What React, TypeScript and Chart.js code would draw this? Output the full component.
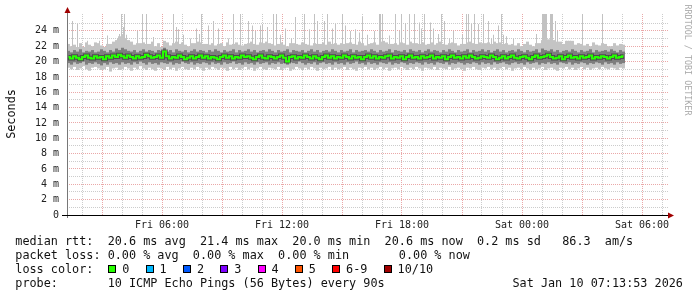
import React, { useEffect, useRef } from 'react';
import { Chart, registerables } from 'chart.js';

Chart.register(...registerables);

// ---- time axis: hours counted from Fri 00:00 ----
const START_HOUR = 1.25; // Fri 01:15 (left edge of plot)
const END_HOUR = 31.3; // Sat 07:18 (right edge of plot)
const STEP_HOURS = 0.15; // one smoke column = 9 minutes

// ---- smoke columns (ms) ----
const LIGHT_TOP_MS = [
  22.3, 22.0, 22.2, 21.9, 22.4, 21.9, 22.5, 22.2, 22.0, 22.5,
  22.4, 22.1, 21.9, 22.3, 22.3, 22.6, 22.8, 23.3, 23.5, 23.0,
  22.8, 22.6, 22.2, 22.4, 22.4, 22.5, 22.3, 22.3, 22.6, 22.0,
  22.4, 21.9, 22.7, 22.5, 22.1, 22.4, 22.6, 22.3, 22.5, 22.2,
  22.0, 22.4, 22.4, 22.6, 22.5, 22.3, 22.3, 22.2, 22.4, 22.1,
  22.3, 22.4, 22.0, 22.5, 22.2, 22.3, 22.5, 22.2, 22.1, 22.3,
  22.4, 22.6, 22.3, 22.2, 22.5, 22.4, 22.6, 22.4, 22.3, 22.1,
  22.3, 22.5, 22.2, 22.0, 22.4, 22.4, 22.3, 22.2, 22.5, 22.3,
  22.2, 22.1, 22.4, 22.3, 22.3, 22.5, 22.2, 22.6, 22.3, 22.4,
  22.2, 22.4, 22.3, 22.4, 22.5, 22.3, 22.2, 22.6, 22.4, 22.1,
  22.3, 22.4, 22.5, 22.2, 22.6, 22.7, 22.5, 22.3, 22.3, 22.4,
  22.2, 22.5, 22.4, 22.2, 22.6, 22.4, 22.4, 22.3, 22.5, 22.2,
  22.3, 22.5, 22.2, 22.4, 22.6, 22.3, 22.2, 22.4, 22.5, 22.4,
  22.1, 22.3, 22.3, 22.5, 22.6, 22.4, 22.3, 22.5, 22.4, 22.4,
  22.5, 22.3, 22.6, 22.4, 22.5, 22.3, 22.4, 22.2, 22.3, 22.1,
  22.4, 22.0, 22.3, 22.6, 22.2, 22.0, 22.4, 22.4, 22.8, 23.0,
  22.9, 23.2, 22.8, 22.6, 22.6, 22.3, 22.7, 22.7, 22.7, 22.2,
  22.4, 22.3, 22.1, 22.3, 22.0, 22.5, 22.2, 22.1, 22.4, 22.3,
  22.0, 22.0, 22.4, 22.1, 22.3, 22.2,
];

const MIN_MS = [
  19.2, 19.0, 19.3, 18.9, 19.1, 19.4, 19.0, 18.8, 19.2, 19.3,
  19.1, 18.9, 19.0, 19.3, 18.7, 19.1, 19.2, 18.9, 19.0, 19.3,
  19.1, 18.8, 19.2, 19.0, 19.4, 19.1, 18.9, 19.2, 19.0, 18.8,
  19.2, 19.1, 18.9, 19.3, 19.0, 19.2, 18.8, 19.1, 19.3, 19.0,
  18.9, 19.2, 19.0, 19.3, 19.1, 18.8, 19.2, 19.0, 19.3, 19.1,
  18.9, 19.2, 19.1, 18.8, 19.3, 19.0, 19.2, 18.9, 19.1, 19.3,
  19.0, 19.2, 18.8, 19.1, 19.3, 19.0, 18.9, 19.2, 19.1, 19.0,
  19.3, 18.9, 19.1, 19.2, 18.8, 19.0, 19.3, 19.1, 18.9, 19.2,
  19.0, 19.3, 19.1, 18.8, 19.2, 19.0, 19.1, 19.3, 18.9, 19.2,
  19.0, 19.1, 19.3, 18.9, 19.2, 19.0, 18.8, 19.2, 19.1, 19.3,
  19.0, 19.2, 18.9, 19.1, 19.3, 19.0, 19.2, 18.8, 19.1, 19.2,
  19.0, 19.3, 19.1, 18.9, 19.2, 19.0, 19.3, 19.1, 18.8, 19.2,
  19.1, 19.0, 19.3, 18.9, 19.2, 19.1, 19.0, 19.3, 18.9, 19.1,
  19.2, 19.0, 18.8, 19.2, 19.1, 19.3, 19.0, 18.9, 19.2, 19.1,
  19.3, 19.0, 19.2, 18.9, 19.1, 19.3, 19.0, 19.2, 18.8, 19.1,
  19.2, 19.0, 19.3, 19.1, 18.9, 19.2, 19.0, 19.1, 19.3, 18.9,
  19.1, 19.2, 19.0, 18.8, 19.2, 19.1, 19.3, 19.0, 19.2, 18.9,
  19.1, 19.3, 19.0, 19.2, 18.9, 19.1, 19.2, 19.0, 19.3, 19.1,
  19.0, 19.2, 19.1, 18.9, 19.2, 19.1,
];

const HI_MS = [
  21.4, 21.2, 21.5, 21.3, 21.6, 21.2, 21.4, 21.3, 21.5, 21.2,
  21.3, 21.6, 21.4, 21.2, 21.5, 21.3, 21.7, 21.5, 21.8, 21.6,
  21.4, 21.3, 21.5, 21.2, 21.4, 21.6, 21.3, 21.5, 21.4, 21.2,
  21.5, 21.4, 21.8, 21.3, 21.5, 21.2, 21.6, 21.4, 21.3, 21.5,
  21.2, 21.4, 21.6, 21.3, 21.5, 21.4, 21.2, 21.5, 21.3, 21.6,
  21.4, 21.2, 21.5, 21.3, 21.4, 21.6, 21.2, 21.5, 21.3, 21.4,
  21.6, 21.3, 21.5, 21.2, 21.4, 21.5, 21.3, 21.6, 21.4, 21.2,
  21.5, 21.3, 21.4, 21.6, 21.2, 21.5, 21.4, 21.3, 21.5, 21.2,
  21.4, 21.6, 21.3, 21.5, 21.2, 21.4, 21.5, 21.3, 21.6, 21.4,
  21.2, 21.5, 21.3, 21.4, 21.6, 21.2, 21.5, 21.3, 21.4, 21.5,
  21.3, 21.6, 21.4, 21.2, 21.5, 21.3, 21.4, 21.6, 21.2, 21.5,
  21.4, 21.3, 21.5, 21.2, 21.6, 21.4, 21.3, 21.5, 21.2, 21.4,
  21.6, 21.3, 21.5, 21.4, 21.2, 21.5, 21.3, 21.6, 21.4, 21.2,
  21.5, 21.3, 21.4, 21.6, 21.2, 21.5, 21.3, 21.4, 21.6, 21.3,
  21.5, 21.2, 21.4, 21.6, 21.3, 21.5, 21.2, 21.4, 21.5, 21.3,
  21.6, 21.4, 21.2, 21.5, 21.3, 21.4, 21.6, 21.2, 21.7, 21.5,
  21.4, 21.6, 21.3, 21.5, 21.2, 21.4, 21.5, 21.3, 21.6, 21.4,
  21.2, 21.5, 21.3, 21.4, 21.6, 21.2, 21.5, 21.3, 21.4, 21.5,
  21.3, 21.6, 21.4, 21.2, 21.5, 21.3,
];

const LO_MS = [
  19.8, 19.6, 19.9, 19.7, 19.8, 20.0, 19.6, 19.8, 19.7, 19.9,
  19.7, 19.5, 19.8, 19.6, 19.9, 19.7, 19.8, 19.6, 19.9, 19.7,
  19.8, 19.6, 19.9, 19.7, 20.0, 19.8, 19.6, 19.9, 19.7, 19.8,
  19.6, 19.9, 19.8, 19.7, 19.9, 19.6, 19.8, 19.7, 20.0, 19.8,
  19.7, 19.9, 19.6, 19.8, 19.7, 19.9, 19.8, 19.6, 19.9, 19.7,
  19.8, 19.6, 19.9, 19.7, 19.8, 20.0, 19.7, 19.8, 19.6, 19.9,
  19.7, 19.8, 19.6, 19.9, 19.7, 19.8, 19.9, 19.6, 19.8, 19.7,
  19.9, 19.7, 19.8, 19.6, 19.9, 19.8, 19.7, 20.0, 19.8, 19.6,
  19.8, 19.7, 19.9, 19.6, 19.8, 19.9, 19.7, 19.8, 19.6, 19.9,
  19.7, 19.8, 19.6, 19.9, 19.7, 19.8, 20.0, 19.7, 19.8, 19.6,
  19.9, 19.7, 19.8, 19.6, 19.9, 19.8, 19.7, 19.9, 19.6, 19.8,
  19.7, 19.9, 19.8, 19.6, 19.8, 19.7, 19.9, 19.8, 19.6, 19.9,
  19.7, 19.8, 19.6, 19.9, 19.8, 19.7, 19.9, 19.6, 19.8, 19.7,
  19.9, 19.8, 19.6, 19.8, 19.7, 19.9, 19.8, 19.6, 19.9, 19.7,
  19.8, 19.6, 19.9, 19.7, 19.8, 19.9, 19.7, 19.6, 19.8, 19.9,
  19.7, 19.8, 19.6, 19.9, 19.7, 19.8, 19.9, 19.6, 19.8, 19.7,
  19.9, 19.7, 19.8, 19.6, 19.9, 19.8, 19.7, 19.9, 19.6, 19.8,
  19.7, 19.9, 19.8, 19.6, 19.8, 19.7, 19.9, 19.8, 19.6, 19.9,
  19.7, 19.8, 19.6, 19.9, 19.7, 19.8,
];

const MEDIAN_MS = [
  20.6, 20.4, 20.7, 20.5, 20.3, 20.6, 20.8, 20.5, 20.4, 20.7,
  20.5, 20.6, 20.3, 20.7, 20.5, 20.8, 20.6, 20.9, 20.7, 20.5,
  20.8, 20.6, 20.4, 20.7, 20.5, 20.6, 20.9, 20.7, 20.5, 20.6,
  20.8, 20.5, 21.3, 20.7, 20.4, 20.6, 20.5, 20.8, 20.6, 20.3,
  20.5, 20.7, 20.4, 20.6, 20.8, 20.5, 20.7, 20.4, 20.6, 20.5,
  20.3, 20.6, 20.8, 20.5, 20.7, 20.4, 20.6, 20.5, 20.8, 20.6,
  20.7, 20.5, 20.3, 20.6, 20.8, 20.5, 20.4, 20.7, 20.6, 20.4,
  20.6, 20.8, 20.5, 20.0, 20.6, 20.7, 20.4, 20.6, 20.5, 20.8,
  20.6, 20.4, 20.7, 20.5, 20.3, 20.6, 20.8, 20.5, 20.7, 20.4,
  20.6, 20.5, 20.8, 20.6, 20.4, 20.7, 20.5, 20.6, 20.3, 20.6,
  20.8, 20.5, 20.7, 20.4, 20.6, 20.5, 20.7, 20.8, 20.4, 20.6,
  20.5, 20.7, 20.3, 20.6, 20.8, 20.5, 20.6, 20.4, 20.7, 20.5,
  20.6, 20.8, 20.4, 20.6, 20.5, 20.7, 20.3, 20.6, 20.8, 20.5,
  20.6, 20.4, 20.7, 20.5, 20.8, 20.6, 20.4, 20.5, 20.7, 20.6,
  20.5, 20.8, 20.6, 20.3, 20.5, 20.7, 20.4, 20.6, 20.8, 20.5,
  20.4, 20.6, 20.7, 20.5, 20.3, 20.6, 20.8, 20.5, 20.6, 20.7,
  20.9, 20.6, 20.4, 20.5, 20.7, 20.3, 20.6, 20.8, 20.5, 20.6,
  20.4, 20.7, 20.5, 20.6, 20.8, 20.4, 20.6, 20.5, 20.7, 20.6,
  20.4, 20.6, 20.8, 20.5, 20.6, 20.7,
];

// ---- single-ping spikes above the smoke: time (hours) and top (ms) ----
const SPIKE_HOURS = [
  1.50, 1.75, 2.25, 2.85, 3.25, 3.75, 3.85, 3.95, 4.05, 4.10,
  4.20, 4.75, 5.00, 5.20, 5.55, 6.05, 6.55, 6.70, 6.80, 7.05,
  7.40, 7.70, 7.85, 7.95, 8.30, 8.55, 8.80, 9.30, 9.55, 9.90,
  10.30, 10.50, 10.65, 10.90, 11.00, 11.25, 11.55, 11.70, 11.90, 12.15,
  12.45, 12.65, 13.10, 13.35, 13.60, 13.75, 14.10, 14.25, 14.50, 14.65,
  15.00, 15.15, 15.40, 15.65, 15.85, 16.00, 16.25, 16.60, 16.85, 16.90,
  17.00, 17.35, 17.65, 17.85, 17.95, 18.15, 18.35, 18.60, 18.85, 18.95,
  19.10, 19.40, 19.55, 19.80, 19.95, 20.10, 20.35, 20.55, 21.00, 21.20,
  21.30, 21.45, 21.60, 21.80, 22.05, 22.30, 22.45, 22.55, 22.80, 22.95,
  23.05, 23.20, 23.55, 24.70, 25.00, 25.05, 25.10, 25.15, 25.20, 25.40,
  25.45, 25.50, 25.65, 25.75, 26.20, 26.30, 26.40, 27.00, 28.00, 28.50,
];
const SPIKE_TOP_MS = [
  25.3, 24.9, 22.7, 22.7, 23.4, 23.0, 23.6, 26.2, 24.5, 26.2,
  23.5, 24.0, 26.2, 26.2, 23.2, 22.7, 26.2, 24.5, 24.2, 23.5,
  23.0, 24.3, 23.6, 26.2, 24.7, 25.3, 24.3, 23.0, 26.2, 26.2,
  25.3, 24.7, 24.0, 24.7, 24.9, 24.5, 26.2, 26.2, 23.5, 24.3,
  23.0, 25.8, 26.2, 24.2, 26.2, 25.3, 25.3, 26.2, 24.3, 24.9,
  26.2, 24.7, 24.0, 24.2, 23.8, 25.8, 23.5, 24.0, 26.2, 26.2,
  26.2, 23.4, 26.2, 24.0, 26.2, 25.0, 26.2, 26.2, 25.1, 24.3,
  26.2, 25.1, 24.3, 23.6, 26.2, 25.3, 23.0, 24.0, 23.5, 26.2,
  26.2, 24.9, 26.2, 24.9, 26.2, 25.3, 23.0, 23.5, 24.7, 26.2,
  23.5, 23.3, 23.0, 23.6, 26.2, 26.2, 26.2, 26.2, 26.2, 26.2,
  26.2, 26.2, 25.3, 24.0, 22.7, 22.7, 22.7, 26.2, 26.2, 22.0,
];
const SPIKE_BASE_MS = 21.5;

const Y_MAX = 26.2;
const X_LABEL_HOURS = [6, 12, 18, 24, 30];
const DAY_NAMES = ['Fri', 'Sat'];

const LINE1 = 'median rtt:  20.6 ms avg  21.4 ms max  20.0 ms min  20.6 ms now  0.2 ms sd   86.3  am/s';
const LINE2 = 'packet loss: 0.00 % avg  0.00 % max  0.00 % min       0.00 % now';
const LINE3 = 'loss color:';
const LINE4 = 'probe:       10 ICMP Echo Pings (56 Bytes) every 90s';
const STAMP = 'Sat Jan 10 07:13:53 2026';
const LOSS_LABELS = ['0', '1', '2', '3', '4', '5', '6-9', '10/10'];
const LOSS_COLORS = ['#26ff00', '#00b8ff', '#0059ff', '#7e00ff', '#ff00ff', '#ff5500', '#ff0000', '#a10000'];

const MONO = '"DejaVu Sans Mono", monospace';
const HALF_PIXEL_HOURS = 0.025;

function colTime(i: number) {
  return START_HOUR + STEP_HOURS * (i + 0.5);
}

function hourLabel(v: number) {
  if (!X_LABEL_HOURS.includes(v)) return '';
  const day = DAY_NAMES[Math.floor(v / 24)];
  const h = v % 24;
  return `${day} ${h < 10 ? '0' + h : h}:00`;
}

const axisPlugin = {
  id: 'rrdAxes',
  afterDraw(chart: any) {
    const { ctx, chartArea } = chart;
    const { left, right, top, bottom } = chartArea;
    ctx.save();
    ctx.strokeStyle = '#777777';
    ctx.lineWidth = 1;
    ctx.beginPath();
    ctx.moveTo(left + 0.5, bottom + 3);
    ctx.lineTo(left + 0.5, top - 2);
    ctx.stroke();
    ctx.strokeStyle = '#000000';
    ctx.beginPath();
    ctx.moveTo(left - 5, bottom + 0.5);
    ctx.lineTo(right, bottom + 0.5);
    ctx.stroke();
    ctx.fillStyle = '#a00000';
    ctx.beginPath();
    ctx.moveTo(left + 0.5, top - 7);
    ctx.lineTo(left - 2.5, top - 1);
    ctx.lineTo(left + 3.5, top - 1);
    ctx.closePath();
    ctx.fill();
    ctx.beginPath();
    ctx.moveTo(right + 6, bottom + 0.5);
    ctx.lineTo(right, bottom - 2.5);
    ctx.lineTo(right, bottom + 3.5);
    ctx.closePath();
    ctx.fill();
    ctx.restore();
  },
};

export default function App() {
  const ref = useRef<HTMLCanvasElement>(null);

  useEffect(() => {
    const light = LIGHT_TOP_MS.map((v, i) => ({ x: colTime(i), y: [MIN_MS[i], v] }));
    const mid = HI_MS.map((v, i) => ({ x: colTime(i), y: [LO_MS[i], v] }));
    const med = MEDIAN_MS.map((v, i) => ({ x: colTime(i), y: v }));
    const spikes = SPIKE_HOURS.map((h, i) => ({ x: h + HALF_PIXEL_HOURS, y: [SPIKE_BASE_MS, SPIKE_TOP_MS[i]] }));

    const barCommon = {
      grouped: false,
      barPercentage: 1,
      categoryPercentage: 1,
      borderWidth: 0,
      inflateAmount: 0,
    };

    const chart = new Chart(ref.current as HTMLCanvasElement, {
      type: 'bar',
      data: {
        datasets: [
          {
            type: 'line',
            data: med,
            borderColor: '#26ff00',
            borderWidth: 2,
            stepped: 'middle',
            pointRadius: 0,
            order: 0,
          } as any,
          {
            type: 'line',
            data: med,
            borderColor: 'rgba(30,30,30,0.5)',
            borderWidth: 4,
            stepped: 'middle',
            pointRadius: 0,
            order: 1,
          } as any,
          { ...barCommon, data: mid, backgroundColor: '#7e7e7e', order: 2 } as any,
          { ...barCommon, data: light, backgroundColor: '#c4c4c4', order: 3 } as any,
          { ...barCommon, data: spikes, xAxisID: 'xs', backgroundColor: '#c2c2c2', order: 4 } as any,
        ],
      },
      options: {
        responsive: false,
        devicePixelRatio: 1,
        animation: false,
        events: [],
        layout: { padding: { left: 0, top: 14, right: 29, bottom: 62 } },
        plugins: { legend: { display: false }, tooltip: { enabled: false } },
        scales: {
          x: {
            type: 'linear',
            min: START_HOUR,
            max: END_HOUR,
            offset: false,
            afterFit: (s: any) => {
              s.height = 20;
            },
            grid: {
              offset: false,
              drawTicks: false,
              lineWidth: 1,
              color: (c: any) => (c.tick && c.tick.value % 3 === 0 ? '#eaa8a8' : '#cccccc'),
            },
            border: { display: false, dash: [1, 1] },
            ticks: {
              stepSize: 1,
              autoSkip: false,
              includeBounds: false,
              maxRotation: 0,
              padding: 4,
              color: '#222',
              font: { family: MONO, size: 10 },
              callback: (v: any) => hourLabel(Number(v)),
            },
          },
          xs: {
            type: 'linear',
            position: 'bottom',
            min: START_HOUR,
            max: END_HOUR,
            offset: false,
            display: false,
          },
          y: {
            type: 'linear',
            min: 0,
            max: Y_MAX,
            afterFit: (s: any) => {
              s.width = 67;
            },
            grid: {
              drawTicks: false,
              lineWidth: 1,
              color: (c: any) => {
                const v = c.tick ? c.tick.value : 0;
                if (v > 25 || v === 0) return 'rgba(0,0,0,0)';
                return v % 2 === 0 ? '#eaa8a8' : '#cccccc';
              },
            },
            border: { display: false, dash: [1, 1] },
            ticks: {
              stepSize: 1,
              autoSkip: false,
              includeBounds: false,
              padding: 8,
              color: '#222',
              font: { family: MONO, size: 10 },
              callback: (v: any) => {
                const n = Number(v);
                if (n % 2 !== 0 || n > 24) return '';
                return n === 0 ? '0' : `${n} m`;
              },
            },
          },
        },
      } as any,
      plugins: [axisPlugin],
    });
    return () => chart.destroy();
  }, []);

  const textStyle: React.CSSProperties = {
    position: 'absolute',
    fontFamily: MONO,
    fontSize: '11.8px',
    lineHeight: '14px',
    whiteSpace: 'pre',
    color: '#111',
  };

  let x = 108.3;
  const legend = LOSS_LABELS.map((lab, i) => {
    const bx = x;
    x += 30.2 + 7.1 * lab.length;
    return (
      <React.Fragment key={lab}>
        <div
          style={{
            position: 'absolute',
            left: Math.round(bx),
            top: 265,
            width: 8,
            height: 8,
            boxSizing: 'border-box',
            border: '1px solid #000',
            background: LOSS_COLORS[i],
          }}
        />
        <div style={{ ...textStyle, left: bx + 14, top: 262 }}>{lab}</div>
      </React.Fragment>
    );
  });

  return (
    <div
      style={{
        position: 'fixed',
        left: 0,
        top: 0,
        width: 697,
        height: 297,
        background: '#ffffff',
        overflow: 'hidden',
      }}
    >
      <canvas ref={ref} width={697} height={297} style={{ position: 'absolute', left: 0, top: 0, width: 697, height: 297 }} />
      <div
        style={{
          ...textStyle,
          left: 10.9 - 30,
          top: 113.5 - 7,
          width: 60,
          height: 14,
          textAlign: 'center',
          transform: 'rotate(-90deg)',
        }}
      >
        Seconds
      </div>
      <div
        style={{
          position: 'absolute',
          fontFamily: MONO,
          fontSize: '8.4px',
          lineHeight: '10px',
          whiteSpace: 'pre',
          color: '#aaaaaa',
          left: 687.9 - 60,
          top: 60 - 5,
          width: 120,
          height: 10,
          textAlign: 'center',
          transform: 'rotate(90deg)',
        }}
      >
        RRDTOOL / TOBI OETIKER
      </div>
      <div style={{ ...textStyle, left: 15.3, top: 234 }}>{LINE1}</div>
      <div style={{ ...textStyle, left: 15.3, top: 248 }}>{LINE2}</div>
      <div style={{ ...textStyle, left: 15.3, top: 262 }}>{LINE3}</div>
      {legend}
      <div style={{ ...textStyle, left: 15.3, top: 275.7 }}>{LINE4}</div>
      <div style={{ ...textStyle, left: 512.5, top: 275.7 }}>{STAMP}</div>
    </div>
  );
}
